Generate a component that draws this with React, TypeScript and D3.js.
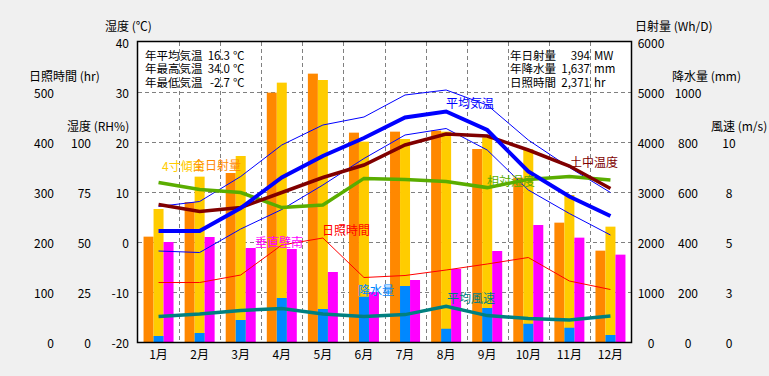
import React from "react";
import * as d3 from "d3";

const months = ["1月", "2月", "3月", "4月", "5月", "6月", "7月", "8月", "9月", "10月", "11月", "12月"];
const globalSolar = [2107, 2800, 3380, 4987, 5367, 4187, 4207, 4227, 3860, 3287, 2387, 1827];
const tilt4South = [2660, 3307, 3720, 5187, 5240, 4007, 4060, 4207, 4093, 3860, 2940, 2307];
const verticalSouth = [2000, 2100, 1880, 1860, 1400, 1000, 1240, 1460, 1820, 2340, 2087, 1747];
const precipitation = [24, 36, 88, 176, 132, 181, 224, 53, 136, 73, 57, 28];
const meanTemp = [2.2, 2.2, 6.8, 12.9, 17.2, 20.8, 24.9, 26.1, 22.4, 14.1, 9.1, 5.2];
const maxTemp = [7.1, 8.1, 13.1, 19.4, 23.4, 25.0, 29.4, 30.4, 27.4, 20.4, 14.9, 9.9];
const minTemp = [-1.8, -2.1, 2.6, 6.5, 11.4, 16.7, 21.4, 22.7, 18.4, 10.4, 5.7, 1.4];
const soilTemp = [7.5, 6.1, 6.9, 9.9, 12.9, 15.4, 19.4, 21.6, 21.2, 18.4, 15.2, 10.7];
const humidity = [79.8, 76.3, 74.7, 67.2, 68.5, 81.8, 81.3, 80.2, 77.2, 81.3, 82.7, 81.0];
const sunshine = [119, 119, 134, 194, 208, 129, 133, 144, 156, 169, 122, 105];
const wind = [1.28, 1.4, 1.58, 1.68, 1.4, 1.28, 1.37, 1.78, 1.32, 1.17, 1.1, 1.3];

const tempTicks = [-20, -10, 0, 10, 20, 30, 40];
const rhTicks = [0, 25, 50, 75, 100];
const hrTicks = [0, 100, 200, 300, 400, 500];
const solarTicks = [0, 1000, 2000, 3000, 4000, 5000, 6000];
const precipTicks = [0, 200, 400, 600, 800, 1000];
const windTicks = [0, 2.5, 5, 7.5, 10];
const windTickLabels = ["0", "3", "5", "8", "10"];

const infoLeftLabels = ["年平均気温", "年最高気温", "年最低気温"];
const infoLeftValues = ["16.3", "34.0", "-2.7"];
const infoLeftUnits = ["℃", "℃", "℃"];
const infoRightLabels = ["年日射量", "年降水量", "日照時間"];
const infoRightValues = ["394", "1,637", "2,371"];
const infoRightUnits = ["MW", "mm", "hr"];

const FONT = "'Noto Sans CJK JP', 'Noto Sans', sans-serif";

export default function App() {
  const W = 769, H = 376;
  const L = 138, R = 631, T = 42, B = 342;

  const x = d3.scaleBand<string>().domain(months).range([L, R]).padding(0);
  const xc = (i: number) => (x(months[i]) as number) + x.bandwidth() / 2;
  const yT = d3.scaleLinear().domain([-20, 40]).range([B, T]);
  const yRH = d3.scaleLinear().domain([0, 100]).range([B, 142]);
  const yHr = d3.scaleLinear().domain([0, 500]).range([B, 92]);
  const ySolar = d3.scaleLinear().domain([0, 6000]).range([B, T]);
  const yPrec = d3.scaleLinear().domain([0, 1000]).range([B, 92]);
  const yWind = d3.scaleLinear().domain([0, 10]).range([B, 142]);

  const barW = 10;
  const bx = (i: number, k: number) => xc(i) - 15 + k * barW;

  const mk = (vals: number[], sc: d3.ScaleLinear<number, number>) =>
    d3.line<number>().x((_, i) => xc(i)).y((v) => sc(v))(vals) || "";

  const grid = "#808080";
  const fs = 12;

  const label = (t: string, xx: number, yy: number, color: string, anchor = "start", size = fs) => (
    <text x={xx} y={yy} fill={color} fontSize={size} textAnchor={anchor} dominantBaseline="central" fontFamily={FONT}>{t}</text>
  );

  return (
    <svg width={W} height={H} style={{ position: "absolute", left: 0, top: 0 }} fontFamily={FONT}>
      <rect x={0} y={0} width={W} height={H} fill="#f0f0f0" />
      <rect x={L} y={T} width={R - L} height={B - T} fill="#ffffff" />
      {/* grid */}
      {tempTicks.filter((t) => t > -20 && t < 40).map((t) => (
        <line key={"h" + t} x1={L} x2={R} y1={yT(t) + 0.5} y2={yT(t) + 0.5} stroke={grid} strokeDasharray="4,3" />
      ))}
      {months.slice(1).map((m) => (
        <line key={"v" + m} x1={Math.round(x(m) as number) + 0.5} x2={Math.round(x(m) as number) + 0.5} y1={T} y2={B} stroke={grid} strokeDasharray="4,3" />
      ))}
      {/* bars */}
      {months.map((m, i) => (
        <g key={"b" + m}>
          <rect x={bx(i, 0)} y={ySolar(globalSolar[i])} width={barW} height={B - ySolar(globalSolar[i])} fill="#ff8800" />
          <rect x={bx(i, 1)} y={ySolar(tilt4South[i])} width={barW} height={B - ySolar(tilt4South[i])} fill="#ffcc00" />
          <rect x={bx(i, 2)} y={ySolar(verticalSouth[i])} width={barW} height={B - ySolar(verticalSouth[i])} fill="#ff00ff" />
          <rect x={bx(i, 1)} y={yPrec(precipitation[i])} width={barW} height={B - yPrec(precipitation[i])} fill="#0088ff" />
        </g>
      ))}
      {/* lines */}
      <path d={mk(sunshine, yHr)} fill="none" stroke="#ff0000" strokeWidth={1} />
      <path d={mk(maxTemp, yT)} fill="none" stroke="#0000ff" strokeWidth={1} />
      <path d={mk(minTemp, yT)} fill="none" stroke="#0000ff" strokeWidth={1} />
      <path d={mk(humidity, yRH)} fill="none" stroke="#5aad00" strokeWidth={3.5} />
      <path d={mk(soilTemp, yT)} fill="none" stroke="#800000" strokeWidth={3.5} />
      <path d={mk(meanTemp, yT)} fill="none" stroke="#0000ff" strokeWidth={4} />
      <path d={mk(wind, yWind)} fill="none" stroke="#008080" strokeWidth={3.5} />
      {/* frame */}
      <rect x={L - 0.5} y={T - 0.5} width={R - L + 1} height={B - T + 1} fill="none" stroke="#000" strokeWidth={1.5} />
      {/* series labels */}
      {label("4寸傾南", 162, 165, "#ffcc00")}
      {label("全日射量", 193, 164, "#ff8800")}
      {label("垂直壁南", 255, 241, "#ff00ff")}
      {label("日照時間", 322, 229, "#ff0000")}
      {label("降水量", 358, 289, "#0088ff")}
      {label("平均気温", 446, 102, "#0000ff")}
      {label("相対湿度", 487, 180, "#5aad00")}
      {label("平均風速", 447, 297, "#008080")}
      {label("土中温度", 570, 161, "#800000")}
      {/* info boxes */}
      {infoLeftLabels.map((t, i) => (
        <g key={"il" + i}>
          {label(t, 145, 54.5 + i * 13.5, "#000", "start", 11.5)}
          {label(infoLeftValues[i], 230, 54.5 + i * 13.5, "#000", "end", 11.5)}
          {label(infoLeftUnits[i], 233, 54.5 + i * 13.5, "#000", "start", 11.5)}
        </g>
      ))}
      {infoRightLabels.map((t, i) => (
        <g key={"ir" + i}>
          {label(t, 510, 54.5 + i * 13.5, "#000", "start", 11.5)}
          {label(infoRightValues[i], 590, 54.5 + i * 13.5, "#000", "end", 11.5)}
          {label(infoRightUnits[i], 594, 54.5 + i * 13.5, "#000", "start", 11.5)}
        </g>
      ))}
      {/* axis titles */}
      {label("湿度 (℃)", 105, 25, "#000")}
      {label("日照時間 (hr)", 29, 75, "#000")}
      {label("湿度 (RH%)", 67, 125, "#000")}
      {label("日射量 (Wh/D)", 635, 25, "#000")}
      {label("降水量 (mm)", 672, 75, "#000")}
      {label("風速 (m/s)", 711, 125, "#000")}
      {/* tick labels */}
      {tempTicks.map((t) => <g key={"tt" + t}>{label(String(t), 129, yT(t), "#000", "end")}</g>)}
      {rhTicks.map((t) => <g key={"rh" + t}>{label(String(t), 91, yRH(t), "#000", "end")}</g>)}
      {hrTicks.map((t) => <g key={"hr" + t}>{label(String(t), 54, yHr(t), "#000", "end")}</g>)}
      {solarTicks.map((t) => <g key={"so" + t}>{label(String(t), 651, ySolar(t), "#000", "middle")}</g>)}
      {precipTicks.map((t) => <g key={"pr" + t}>{label(String(t), 688, yPrec(t), "#000", "middle")}</g>)}
      {windTicks.map((t, i) => <g key={"wi" + t}>{label(windTickLabels[i], 729, yWind(t), "#000", "middle")}</g>)}
      {months.map((m, i) => <g key={"m" + m}>{label(m, xc(i), 353, "#000", "middle")}</g>)}
    </svg>
  );
}
